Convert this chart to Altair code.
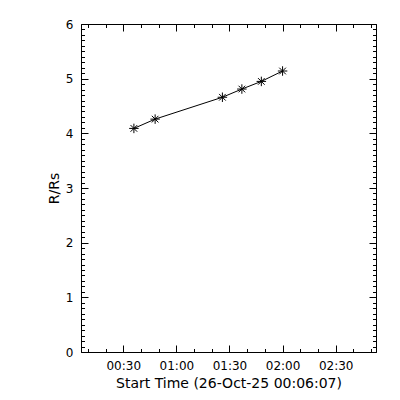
import altair as alt
import pandas as pd

# Data
times = ["00:36", "00:48", "01:26", "01:37", "01:48", "02:00"]
heights = [4.09, 4.26, 4.66, 4.81, 4.95, 5.14]

x_major = [30, 60, 90, 120, 150]
x_minor = [10, 20, 40, 50, 70, 80, 100, 110, 130, 140, 160, 170]
y_major = [0, 1, 2, 3, 4, 5, 6]
y_minor = [round(i * 0.1, 1) for i in range(61)]

x_start = 6 + 7 / 60.0          # 00:06:07
x_end = x_start + 10000 / 60.0  # +10000 s

def to_min(s):
    h, m = s.split(":")
    return int(h) * 60 + int(m)

df = pd.DataFrame({"t": [to_min(s) for s in times], "r": heights})

FONT = "DejaVu Sans"
xscale = alt.Scale(domain=[x_start, x_end], nice=False, zero=False)
yscale = alt.Scale(domain=[0, 6], nice=False, zero=False)
label_expr = "utcFormat(datum.value * 60000, '%H:%M')"

MAJ = 7
MIN = 3.5

def ax(orient, values, size, labels=False, title=None, **kw):
    args = dict(orient=orient, values=values, tickSize=size, offset=-size,
                domain=False, grid=False, labels=labels, tickColor="black",
                tickWidth=1, title=title)
    args.update(kw)
    if title is None:
        args["title"] = None
    return alt.Axis(**args)

base = alt.Chart(df)

line = base.mark_line(color="black", strokeWidth=1).encode(
    x=alt.X("t:Q", scale=xscale,
            axis=ax("bottom", x_major, MAJ, labels=True,
                    title="Start Time (26-Oct-25 00:06:07)",
                    labelExpr=label_expr, labelPadding=8, labelFont=FONT,
                    labelFontSize=12, labelColor="black", titleFont=FONT,
                    titleFontSize=14, titleFontWeight="normal",
                    titleColor="black", titlePadding=5)),
    y=alt.Y("r:Q", scale=yscale,
            axis=ax("left", y_major, MAJ, labels=True, title="R/Rs",
                    labelPadding=8, labelFont=FONT, labelFontSize=12,
                    labelColor="black", titleFont=FONT, titleFontSize=14,
                    titleFontWeight="normal", titleColor="black",
                    titlePadding=4)),
)

star = "M-1,0L1,0M0,-1L0,1M-0.7,-0.7L0.7,0.7M-0.7,0.7L0.7,-0.7"
points = base.mark_point(shape=star, size=90, color="black", strokeWidth=1,
                         filled=False, opacity=1).encode(
    x=alt.X("t:Q", scale=xscale, axis=ax("top", x_major, MAJ)),
    y=alt.Y("r:Q", scale=yscale, axis=ax("right", y_major, MAJ)),
)

minor1 = base.mark_point(opacity=0).encode(
    x=alt.X("t:Q", scale=xscale, axis=ax("bottom", x_minor, MIN)),
    y=alt.Y("r:Q", scale=yscale, axis=ax("left", y_minor, MIN)),
)
minor2 = base.mark_point(opacity=0).encode(
    x=alt.X("t:Q", scale=xscale, axis=ax("top", x_minor, MIN)),
    y=alt.Y("r:Q", scale=yscale, axis=ax("right", y_minor, MIN)),
)

chart = alt.layer(line, points, minor1, minor2).resolve_axis(
    x="independent", y="independent"
).properties(
    width=295, height=328,
    autosize=alt.AutoSizeParams(type="none"),
    padding={"left": 73, "top": 16, "right": 16, "bottom": 44},
    background="white",
).configure_view(stroke="black", strokeWidth=1)

chart.save("out.html", embed_options={"renderer": "svg", "actions": False})
